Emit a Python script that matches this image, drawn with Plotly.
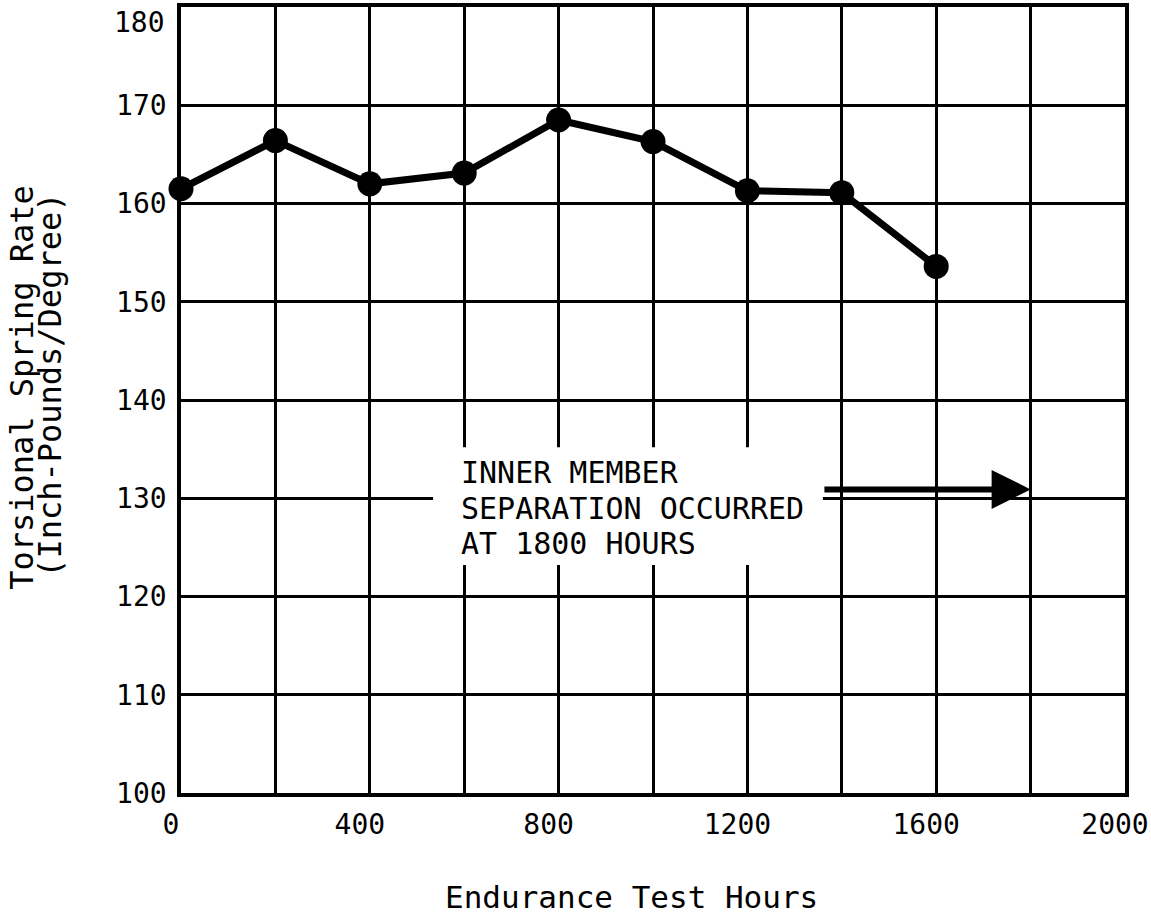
import plotly.graph_objects as go

# Endurance test: torsional spring rate measured every 200 hours
hours = [0, 200, 400, 600, 800, 1000, 1200, 1400, 1600]
spring_rate = [161.5, 166.4, 162.0, 163.1, 168.5, 166.3, 161.3, 161.1, 153.6]

x_tick_values = [0, 400, 800, 1200, 1600, 2000]
x_tick_labels = ["0", "400", "800", "1200", "1600", "2000"]
y_tick_values = [100, 110, 120, 130, 140, 150, 160, 170, 180]
y_tick_labels = ["100", "110", "120", "130", "140", "150", "160", "170", "180"]

note_lines = ["INNER MEMBER", "SEPARATION OCCURRED", "AT 1800 HOURS"]
note_y = [132.62, 129.0, 125.4]
separation_hours = 1800

FONT = "DejaVu Sans Mono"
TICK_FONT = dict(family=FONT, size=28, color="black")

fig = go.Figure()
fig.add_trace(go.Scatter(
    x=hours, y=spring_rate, mode="lines+markers",
    line=dict(color="black", width=7),
    marker=dict(color="black", size=25),
    showlegend=False, cliponaxis=False,
))

grid = dict(showgrid=True, gridcolor="black", gridwidth=2.5,
            showline=True, linecolor="black", linewidth=3.5, mirror=True,
            zeroline=False, ticks="", tickfont=TICK_FONT,
            ticklabeloverflow="allow", automargin=False)

fig.update_xaxes(range=[0, 2000], tickmode="array",
                 tickvals=x_tick_values, ticktext=x_tick_labels,
                 minor=dict(dtick=200, tick0=0, showgrid=True,
                            gridcolor="black", gridwidth=2.5),
                 ticklabelstandoff=4, ticklabelshift=-10, **grid)
# the top label sits just below its grid line, so it is placed separately
fig.update_yaxes(range=[100, 180], tickmode="array",
                 tickvals=y_tick_values[:-1], ticktext=y_tick_labels[:-1],
                 ticklabelstandoff=5, **grid)
fig.add_annotation(x=0, y=y_tick_values[-1], xref="paper", yref="y",
                   text=y_tick_labels[-1], showarrow=False,
                   xanchor="right", yanchor="middle", xshift=-14, yshift=-15,
                   font=TICK_FONT)

# white panel behind the note, breaking the grid lines
fig.add_shape(type="rect", xref="x", yref="y",
              x0=534, x1=1360, y0=123.2, y1=135.2,
              fillcolor="white", line=dict(width=0), layer="above")

for txt, yv in zip(note_lines, note_y):
    fig.add_annotation(x=590, y=yv, xref="x", yref="y", text=txt,
                       showarrow=False, xanchor="left", yanchor="middle",
                       font=dict(family=FONT, size=30, color="black"))

# arrow pointing to the separation time
fig.add_annotation(x=separation_hours, y=130.9, ax=1360, ay=130.9,
                   xref="x", yref="y", axref="x", ayref="y", text="",
                   showarrow=True, arrowhead=2, arrowsize=1.3,
                   arrowwidth=6, arrowcolor="black")

# axis titles
fig.add_annotation(x=0.477, y=-0.132, xref="paper", yref="paper",
                   text="Endurance Test Hours", showarrow=False,
                   xanchor="center", yanchor="middle",
                   font=dict(family=FONT, size=31, color="black"))
fig.add_annotation(x=-0.168, y=0.516, xref="paper", yref="paper",
                   text="Torsional Spring Rate", textangle=-90, showarrow=False,
                   xanchor="center", yanchor="middle",
                   font=dict(family=FONT, size=32, color="black"))
fig.add_annotation(x=-0.139, y=0.519, xref="paper", yref="paper",
                   text="(Inch-Pounds/Degree)", textangle=-90, showarrow=False,
                   xanchor="center", yanchor="middle",
                   font=dict(family=FONT, size=32, color="black"))

fig.update_layout(
    width=1151, height=916,
    margin=dict(l=181, r=26, t=7, b=123, autoexpand=False),
    paper_bgcolor="white", plot_bgcolor="white",
    font=dict(family=FONT, color="black"),
)

fig.write_html("out.html")
